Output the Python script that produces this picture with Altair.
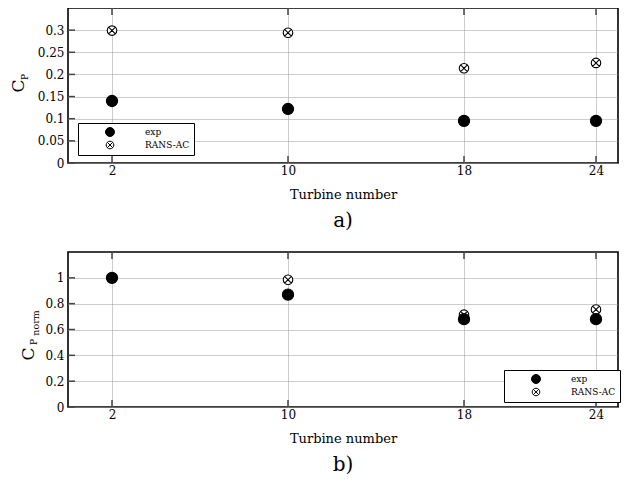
import altair as alt
import pandas as pd

# ---- data ----
turbines = [2, 10, 18, 24]
series_names = ["exp", "RANS-AC"]
cp_exp = [0.140, 0.122, 0.095, 0.095]
cp_rans = [0.299, 0.294, 0.214, 0.226]
cpn_exp = [1.0, 0.87, 0.68, 0.68]
cpn_rans = [1.0, 0.985, 0.715, 0.755]
x_ticks = [2, 10, 18, 24]
y_ticks_top = [0, 0.05, 0.1, 0.15, 0.2, 0.25, 0.3]
y_ticks_bot = [0, 0.2, 0.4, 0.6, 0.8, 1.0]

FONT = "DejaVu Serif"
W, H = 550, 155
XMAX = 25.0
OTIMES = ("M-0.85,0A0.85,0.85 0 1,1 0.85,0A0.85,0.85 0 1,1 -0.85,0Z"
          "M-0.6,-0.6L0.6,0.6M-0.6,0.6L0.6,-0.6")


def make_df(exp_vals, rans_vals):
    rows = []
    for t, v in zip(turbines, rans_vals):
        rows.append({"turbine": t, "value": v, "series": "RANS-AC"})
    for t, v in zip(turbines, exp_vals):
        rows.append({"turbine": t, "value": v, "series": "exp"})
    return pd.DataFrame(rows)


def panel(exp_vals, rans_vals, ydom, yticks, yfmt, lx, ly, label, ytitle_parts):
    df = make_df(exp_vals, rans_vals)
    x_enc = alt.X("turbine:Q",
                  scale=alt.Scale(domain=[0, XMAX], nice=False, zero=False),
                  axis=alt.Axis(values=x_ticks, format="d", title="Turbine number",
                                grid=True, ticks=False, domain=False,
                                labelPadding=2, titlePadding=12))
    y_enc = alt.Y("value:Q",
                  scale=alt.Scale(domain=ydom, nice=False),
                  axis=alt.Axis(values=yticks, format=yfmt, title=None,
                                grid=True, ticks=False, domain=False,
                                labelPadding=4))
    leg = alt.Legend(orient="none", legendX=lx, legendY=ly, title=None,
                     strokeColor="black", fillColor="white", padding=4,
                     symbolOffset=23, labelOffset=30, rowPadding=0,
                     symbolSize=80, symbolStrokeWidth=1,
                     labelFont=FONT, labelFontSize=9, labelColor="black",
                     cornerRadius=0)
    pts = alt.Chart(df).mark_point(filled=True, strokeWidth=1.1,
                                   size=125, opacity=1).encode(
        x=x_enc, y=y_enc,
        shape=alt.Shape("series:N",
                        scale=alt.Scale(domain=series_names, range=["circle", OTIMES]),
                        legend=leg),
        fill=alt.Fill("series:N",
                      scale=alt.Scale(domain=series_names, range=["black", "white"]),
                      legend=leg),
        stroke=alt.Stroke("series:N",
                          scale=alt.Scale(domain=series_names, range=["black", "black"]),
                          legend=leg),
        order=alt.Order("idx:Q"),
    ).transform_calculate(idx="datum.series == 'exp' ? 1 : 0")

    tdf = pd.DataFrame({"turbine": x_ticks})
    ydf = pd.DataFrame({"value": yticks})
    xt_top = alt.Chart(tdf).mark_rule(color="#444", strokeWidth=1.5).encode(
        x=x_enc, y=alt.value(0), y2=alt.value(7))
    xt_bot = alt.Chart(tdf).mark_rule(color="#444", strokeWidth=1.5).encode(
        x=x_enc, y=alt.value(H), y2=alt.value(H - 7))
    yt = alt.Chart(ydf).mark_rule(color="#444", strokeWidth=1.5).encode(
        y=y_enc, x=alt.value(0), x2=alt.value(7))

    texts = []
    for s, px, py, fs in ytitle_parts:
        texts.append(alt.Chart(pd.DataFrame({"s": [s]})).mark_text(
            angle=270, font=FONT, fontSize=fs, align="center", baseline="middle",
            color="black").encode(text="s:N", x=alt.value(px), y=alt.value(py)))

    return alt.layer(xt_top, xt_bot, yt, pts, *texts).properties(
        width=W, height=H,
        title=alt.TitleParams(label, orient="bottom", anchor="middle",
                              font=FONT, fontSize=20, fontWeight="normal",
                              color="black", offset=10))


top = panel(cp_exp, cp_rans, [0, 0.35], y_ticks_top, "~g", 10, 115, "a)",
            [("C", -49, 78, 17), ("P", -43, 69, 9)])
bot = panel(cpn_exp, cpn_rans, [0, 1.2], y_ticks_bot, "~g", 436, 118, "b)",
            [("C", -39, 102, 17), ("P", -34, 90, 9), ("norm", -32, 71, 9.5)])

chart = alt.vconcat(top, bot, spacing=18, background="white").resolve_scale(
    shape="independent", fill="independent", stroke="independent").resolve_legend(
    shape="independent", fill="independent", stroke="independent").properties(
    padding={"left": 1, "top": -2, "right": 0, "bottom": 0}
).configure_view(stroke="black", strokeWidth=1.6).configure_axis(
    labelFont=FONT, labelFontSize=12, labelColor="black",
    titleFont=FONT, titleFontSize=13, titleFontWeight="normal", titleColor="black",
    gridColor="#999", gridDash=[1, 1], gridWidth=1, gridOpacity=1
)

chart.save("out.html", embed_options={"renderer": "svg", "actions": False})
